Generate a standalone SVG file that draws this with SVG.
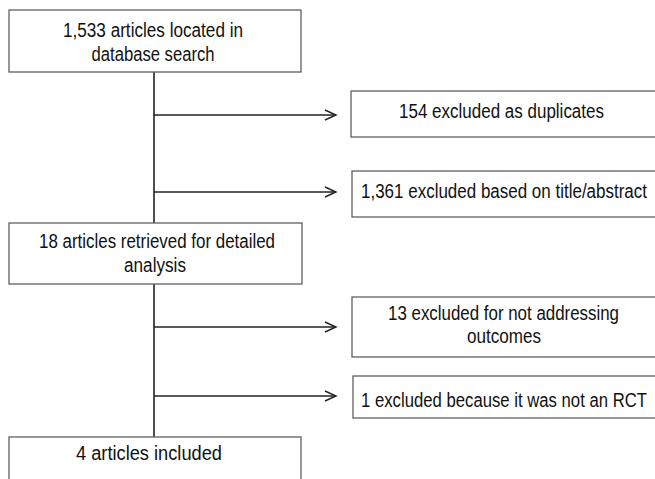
<svg xmlns="http://www.w3.org/2000/svg" width="655" height="479" viewBox="0 0 655 479">
<style>
.box{fill:#fff;stroke:#606060;stroke-width:1.3}
.t{font-family:"Liberation Sans",Arial,sans-serif;font-size:19.5px;fill:#111;text-anchor:middle}
.ln{stroke:#222;stroke-width:1.6;fill:none}
.ah{stroke:#222;stroke-width:1.4;fill:none}
</style>
<defs>
<marker id="arr" markerWidth="14" markerHeight="12" refX="12" refY="6" orient="auto" markerUnits="userSpaceOnUse">
<path class="ah" d="M1,1 L12,6 L1,11"/>
</marker>
</defs>
<rect width="655" height="479" fill="#fff"/>
<g id="connectors">
<line class="ln" x1="154" y1="72" x2="154" y2="223"/>
<line class="ln" x1="154" y1="115" x2="336" y2="115" marker-end="url(#arr)"/>
<line class="ln" x1="154" y1="192" x2="336" y2="192" marker-end="url(#arr)"/>
<line class="ln" x1="154" y1="284" x2="154" y2="437"/>
<line class="ln" x1="154" y1="327" x2="336" y2="327" marker-end="url(#arr)"/>
<line class="ln" x1="154" y1="396" x2="336" y2="396" marker-end="url(#arr)"/>
</g>
<g id="n1">
<rect class="box" x="9" y="10" width="292" height="62"/>
<text class="t" transform="translate(153,37) scale(0.87,1)" textLength="206.9" lengthAdjust="spacingAndGlyphs">1,533 articles located in</text>
<text class="t" transform="translate(153,61) scale(0.87,1)" textLength="141.4" lengthAdjust="spacingAndGlyphs">database search</text>
</g>
<g id="n2">
<rect class="box" x="351" y="91" width="310" height="46"/>
<text class="t" transform="translate(501.5,118) scale(0.87,1)" textLength="235.6" lengthAdjust="spacingAndGlyphs">154 excluded as duplicates</text>
</g>
<g id="n3">
<rect class="box" x="352" y="171" width="310" height="46"/>
<text class="t" transform="translate(504,198) scale(0.87,1)" textLength="328.7" lengthAdjust="spacingAndGlyphs">1,361 excluded based on title/abstract</text>
</g>
<g id="n4">
<rect class="box" x="9" y="223" width="293" height="61"/>
<text class="t" transform="translate(157,248) scale(0.87,1)" textLength="271.3" lengthAdjust="spacingAndGlyphs">18 articles retrieved for detailed</text>
<text class="t" transform="translate(155,272) scale(0.87,1)" textLength="71.3" lengthAdjust="spacingAndGlyphs">analysis</text>
</g>
<g id="n5">
<rect class="box" x="352" y="297" width="310" height="60"/>
<text class="t" transform="translate(503.5,320) scale(0.87,1)" textLength="265.5" lengthAdjust="spacingAndGlyphs">13 excluded for not addressing</text>
<text class="t" transform="translate(504,343) scale(0.87,1)" textLength="85.1" lengthAdjust="spacingAndGlyphs">outcomes</text>
</g>
<g id="n6">
<rect class="box" x="353" y="376" width="310" height="42"/>
<text class="t" transform="translate(504,407) scale(0.87,1)" textLength="328.7" lengthAdjust="spacingAndGlyphs">1 excluded because it was not an RCT</text>
</g>
<g id="n7">
<rect class="box" x="9" y="437" width="292" height="60"/>
<text class="t" transform="translate(149,460) scale(0.87,1)" textLength="167.8" lengthAdjust="spacingAndGlyphs">4 articles included</text>
</g>
</svg>
